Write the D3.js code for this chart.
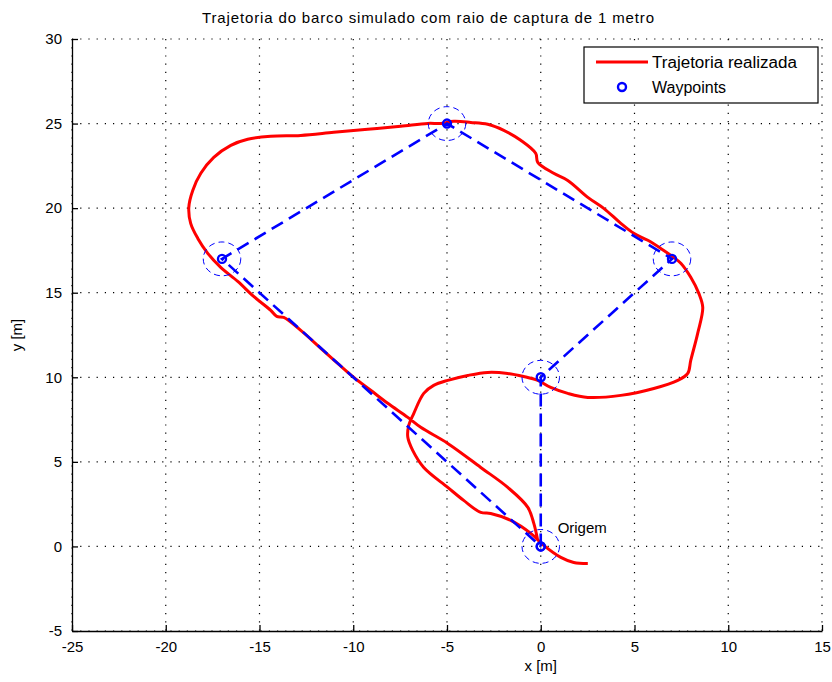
<!DOCTYPE html>
<html>
<head>
<meta charset="utf-8">
<script src="https://cdn.jsdelivr.net/npm/d3@7"></script>
<style>
  body { margin: 0; background: #fff; }
  svg { font-family: "Liberation Sans", Arial, sans-serif; }
  .grid line { stroke: #000; stroke-width: 1.2; stroke-dasharray: 1.2 7; }
</style>
</head>
<body>
<svg id="chart"></svg>
<script>
// Waypoints visited in order (x, y in metres)
const waypointX = [0, 0, 7, -5, -17, 0];
const waypointY = [0, 10, 17, 25, 17, 0];

// Simulated boat trajectory
const trajX = [2.51, 1.76, 1.07, 0.16, -0.53, -1.6, -2.67, -3.2, -4.11, -4.96, -6.24, -6.83, -7.09, -7.04, -6.77,
  -6.24, -5.71, -4.96, -3.89, -2.83, -1.76, -0.91, -0.16, 0.53, 1.44, 2.51, 4.27, 6.03, 7.31, 7.84,
  8.0, 8.37, 8.64, 8.43, 8.0, 7.47, 7.09, 6.4, 5.71, 4.96, 4.27, 3.36, 2.51, 1.44, 0.69,
  -0.16, -0.27, -1.07, -1.97, -2.83, -3.73, -4.64, -5.33, -6.03, -7.47, -9.23, -11.04, -12.8, -14.4, -15.63,
  -16.53, -17.44, -18.13, -18.56, -18.77, -18.67, -18.29, -17.76, -17.07, -16.16, -15.31, -14.4, -14.08, -13.71, -12.8,
  -11.73, -10.83, -9.97, -9.07, -8.16, -7.09, -6.4, -4.96, -3.2, -1.76, -0.69, -0.37, -0.16];
const trajY = [-1.01, -0.95, -0.65, 0.06, 0.77, 1.54, 1.95, 2.01, 2.72, 3.49, 4.67, 5.68, 6.45, 7.16, 7.87,
  9.05, 9.52, 9.82, 10.11, 10.29, 10.23, 10.05, 9.82, 9.4, 9.05, 8.81, 8.93, 9.34, 9.82, 10.23,
  11.0, 12.6, 14.13, 14.96, 15.91, 16.74, 17.09, 17.62, 18.1, 18.51, 19.1, 19.99, 20.64, 21.64, 22.06,
  22.71, 23.24, 24.01, 24.6, 24.96, 25.07, 25.13, 25.01, 25.01, 24.84, 24.66, 24.48, 24.3, 24.25, 24.07,
  23.71, 23.0, 22.06, 21.05, 20.05, 19.1, 18.21, 17.33, 16.5, 15.67, 14.78, 13.96, 13.6, 13.54, 12.77,
  11.71, 10.82, 9.99, 9.23, 8.46, 7.63, 7.04, 6.09, 4.67, 3.49, 2.31, 1.36, 0.35];

const xTicks = [-25, -20, -15, -10, -5, 0, 5, 10, 15];
const yTicks = [-5, 0, 5, 10, 15, 20, 25, 30];
const captureRadius = 1;

const config = {
  containerWidth: 832,
  containerHeight: 682,
  margin: {top: 39, right: 10, bottom: 51, left: 72}
};
config.width = config.containerWidth - config.margin.left - config.margin.right;
config.height = config.containerHeight - config.margin.top - config.margin.bottom;

const svg = d3.select('#chart')
  .attr('width', config.containerWidth)
  .attr('height', config.containerHeight);

const chart = svg.append('g')
  .attr('transform', `translate(${config.margin.left},${config.margin.top})`);

const xScale = d3.scaleLinear().domain([-25, 15]).range([0, config.width]);
const yScale = d3.scaleLinear().domain([-5, 30]).range([config.height, 0]);

// Dotted grid
chart.append('g').attr('class', 'grid')
  .selectAll('line').data(xTicks).join('line')
    .attr('x1', d => xScale(d)).attr('x2', d => xScale(d))
    .attr('y1', 0).attr('y2', config.height);
chart.append('g').attr('class', 'grid')
  .selectAll('line').data(yTicks).join('line')
    .attr('x1', 0).attr('x2', config.width)
    .attr('y1', d => yScale(d)).attr('y2', d => yScale(d));

// Axes with inward ticks, plain hyphen for negatives
const fmt = d => String(d);
const xAxis = d3.axisBottom(xScale).tickValues(xTicks).tickFormat(fmt).tickSize(-6).tickSizeOuter(0).tickPadding(10);
const yAxis = d3.axisLeft(yScale).tickValues(yTicks).tickFormat(fmt).tickSize(-6).tickSizeOuter(0).tickPadding(10);

const xAxisG = chart.append('g')
  .attr('transform', `translate(0,${config.height})`)
  .call(xAxis);
const yAxisG = chart.append('g').call(yAxis);

[xAxisG, yAxisG].forEach(g => {
  g.select('.domain').attr('stroke', '#000').attr('stroke-width', 1.3);
  g.selectAll('.tick line').attr('stroke', '#000').attr('stroke-width', 1.3);
  g.selectAll('.tick text').attr('fill', '#000').attr('font-size', 15)
    .attr('font-family', '"Liberation Sans", Arial, sans-serif');
});
xAxisG.selectAll('.tick text').attr('dy', '0.75em');

// Trajectory
const trajData = trajX.map((x, i) => [x, trajY[i]]);
const line = d3.line()
  .x(d => xScale(d[0]))
  .y(d => yScale(d[1]))
  .curve(d3.curveCatmullRom.alpha(0.5));

chart.append('path')
  .datum(trajData)
  .attr('fill', 'none')
  .attr('stroke', '#ff0000')
  .attr('stroke-width', 3)
  .attr('stroke-linejoin', 'round')
  .attr('d', line);

// Waypoint route
const wpData = waypointX.map((x, i) => [x, waypointY[i]]);
chart.append('path')
  .datum(wpData)
  .attr('fill', 'none')
  .attr('stroke', '#0000ff')
  .attr('stroke-width', 2.6)
  .attr('stroke-dasharray', '13 7')
  .attr('d', d3.line().x(d => xScale(d[0])).y(d => yScale(d[1])));

// Capture circles (1 metre)
chart.selectAll('.capture')
  .data(wpData.slice(0, 5))
  .join('ellipse')
    .attr('class', 'capture')
    .attr('cx', d => xScale(d[0]))
    .attr('cy', d => yScale(d[1]))
    .attr('rx', xScale(captureRadius) - xScale(0))
    .attr('ry', yScale(0) - yScale(captureRadius))
    .attr('fill', 'none')
    .attr('stroke', '#0000ff')
    .attr('stroke-width', 1)
    .attr('stroke-dasharray', '6 4');

// Waypoint markers
chart.selectAll('.wp')
  .data(wpData)
  .join('circle')
    .attr('class', 'wp')
    .attr('cx', d => xScale(d[0]))
    .attr('cy', d => yScale(d[1]))
    .attr('r', 4)
    .attr('fill', 'none')
    .attr('stroke', '#0000ff')
    .attr('stroke-width', 2.4);

// Origin label
chart.append('text')
  .attr('x', xScale(0.9))
  .attr('y', yScale(1.1))
  .attr('dy', '0.35em')
  .attr('font-size', 15)
  .text('Origem');

// Title and axis labels
svg.append('text')
  .attr('x', 428).attr('y', 23)
  .attr('text-anchor', 'middle')
  .attr('font-size', 15)
  .attr('textLength', 452)
  .attr('lengthAdjust', 'spacing')
  .text('Trajetoria do barco simulado com raio de captura de 1 metro');

svg.append('text')
  .attr('x', config.margin.left + xScale(0)).attr('y', 671)
  .attr('text-anchor', 'middle')
  .attr('font-size', 15)
  .text('x [m]');

svg.append('text')
  .attr('transform', `translate(22,${config.margin.top + yScale(12.5)}) rotate(-90)`)
  .attr('text-anchor', 'middle')
  .attr('font-size', 15)
  .text('y [m]');

// Legend
const legend = svg.append('g').attr('transform', 'translate(584,47)');
legend.append('rect')
  .attr('width', 234).attr('height', 56)
  .attr('fill', '#fff').attr('stroke', '#000').attr('stroke-width', 1.2);
legend.append('line')
  .attr('x1', 12).attr('x2', 64).attr('y1', 15).attr('y2', 15)
  .attr('stroke', '#ff0000').attr('stroke-width', 3);
legend.append('text')
  .attr('x', 68).attr('y', 15).attr('dy', '0.35em')
  .attr('font-size', 16)
  .attr('textLength', 145)
  .attr('lengthAdjust', 'spacingAndGlyphs')
  .text('Trajetoria realizada');
legend.append('circle')
  .attr('cx', 38).attr('cy', 40).attr('r', 4)
  .attr('fill', 'none').attr('stroke', '#0000ff').attr('stroke-width', 2.4);
legend.append('text')
  .attr('x', 68).attr('y', 40).attr('dy', '0.35em')
  .attr('font-size', 16)
  .text('Waypoints');
</script>
</body>
</html>
